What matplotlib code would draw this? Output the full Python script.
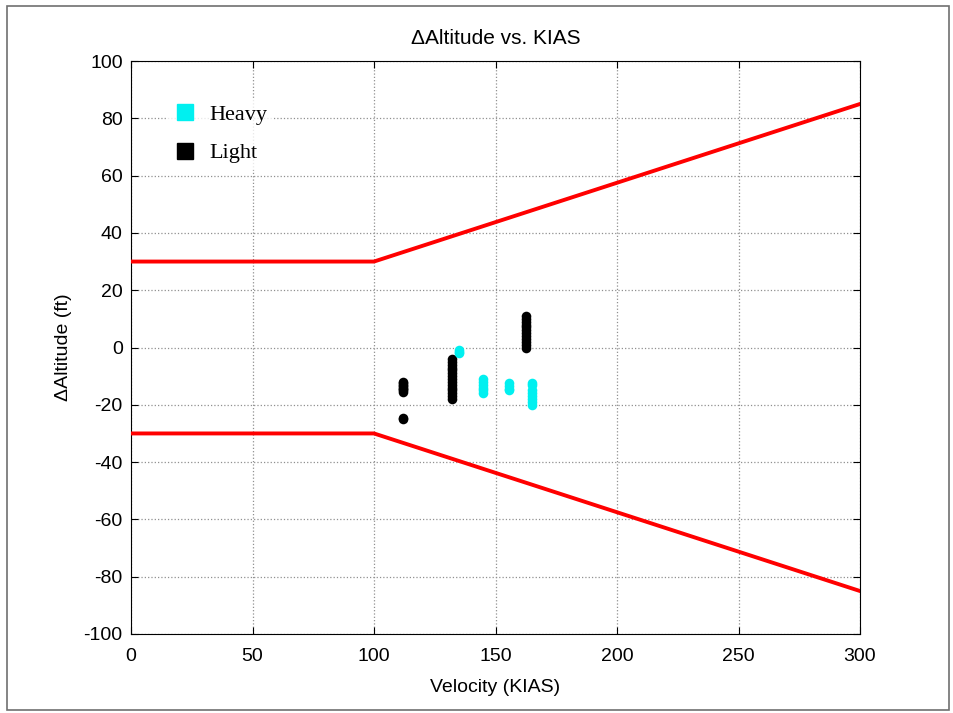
import matplotlib
matplotlib.use("Agg")
import matplotlib.pyplot as plt
from matplotlib.patches import Rectangle
from matplotlib.lines import Line2D

# Limit lines (red)
limit_x = [0, 100, 300]
limit_upper = [30, 30, 85]
limit_lower = [-30, -30, -85]

# Light (black) data
light_x = [112]*10 + [132]*15 + [162.5]*12
light_y = [-12, -12.5, -13, -13.5, -14, -14.5, -15, -15.5, -24.5, -25,
           -4, -5, -6, -7, -8, -9, -10, -11, -12, -13, -14, -15, -16, -17, -18,
           0, 1, 2, 3, 4, 5, 6, 7, 8, 9, 10, 11]

# Heavy (cyan) data
heavy_x = [135]*3 + [145]*6 + [155.5]*4 + [165]*8
heavy_y = [-1, -1.5, -2,
           -11, -12, -13, -14, -15, -16,
           -12.5, -13.5, -14.5, -15,
           -12.5, -13, -15, -16, -17, -18, -19, -20]

xticks = [0, 50, 100, 150, 200, 250, 300]
yticks = list(range(-100, 101, 20))

plt.rcParams['font.family'] = ['Liberation Sans', 'DejaVu Sans']
plt.rcParams['axes.unicode_minus'] = False

fig = plt.figure(figsize=(9.54, 7.13), dpi=100)
ax = fig.add_axes([131/954, 1-634/713, (860-131)/954, (634-61)/713])

ax.plot(limit_x, limit_upper, color='red', lw=2.8, zorder=3)
ax.plot(limit_x, limit_lower, color='red', lw=2.8, zorder=3)
ax.scatter(light_x, light_y, s=48, color='black', zorder=4, linewidths=0)
ax.scatter(heavy_x, heavy_y, s=48, color='#00F0F0', zorder=4, linewidths=0)

ax.set_xlim(0, 300)
ax.set_ylim(-100, 100)
ax.set_xticks(xticks)
ax.set_yticks(yticks)
ax.tick_params(direction='in', top=True, right=True, length=5, labelsize=14, width=0.8, pad=6)
ax.tick_params(axis='x', pad=10)
ax.grid(True, linestyle=':', color='#909090', linewidth=0.9)
for s in ax.spines.values():
    s.set_linewidth(0.8)

ax.set_title('\u0394Altitude vs. KIAS', fontsize=15, pad=12)
ax.set_xlabel('Velocity (KIAS)', fontsize=14, labelpad=10)
ax.set_ylabel('\u0394Altitude (ft)', fontsize=14, labelpad=8)

handles = [Line2D([], [], linestyle='none', marker='s', markersize=11, color='#00F0F0'),
           Line2D([], [], linestyle='none', marker='s', markersize=11, color='black')]
leg = ax.legend(handles, ['Heavy', 'Light'], loc='upper left', bbox_to_anchor=(0.034, 0.955),
                frameon=True, fancybox=False, edgecolor='none', facecolor='white',
                prop={'family': 'Liberation Serif', 'size': 16}, handletextpad=0.6,
                labelspacing=0.8, handlelength=1.0, borderpad=0.3)

fig.patches.append(Rectangle((7/954, 1-710/713), (949-7)/954, (710-6)/713,
                             transform=fig.transFigure, fill=False,
                             edgecolor='#707070', linewidth=1.2))

fig.savefig('out.png', dpi=100)
